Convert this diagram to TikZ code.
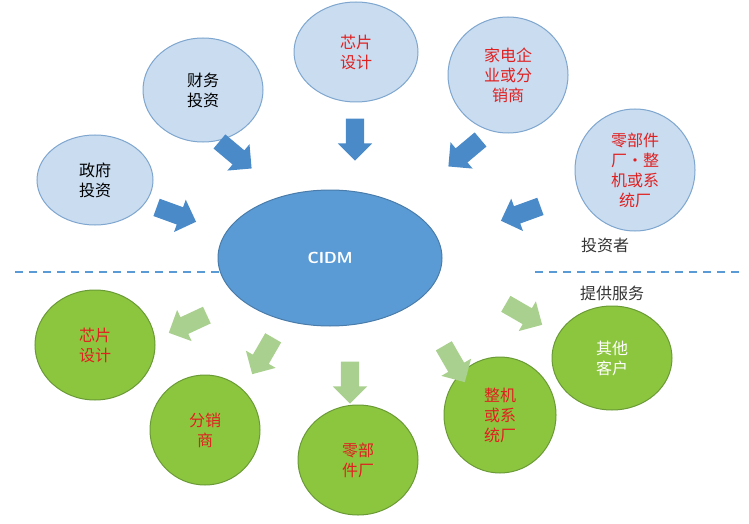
\documentclass[tikz,border=0pt]{standalone}
\usepackage{fontspec}
\newfontfamily\cjk{Noto Sans CJK SC}
\usetikzlibrary{shapes.geometric,shapes.arrows}
\definecolor{topfill}{HTML}{C9DCF0}
\definecolor{topline}{HTML}{7EA6CF}
\definecolor{midfill}{HTML}{5B9BD5}
\definecolor{botfill}{HTML}{8CC63F}
\definecolor{botline}{HTML}{6A9A35}
\definecolor{txtred}{HTML}{E02020}
\definecolor{barrow}{HTML}{4A8AC8}
\definecolor{garrow}{HTML}{A9D08E}
\tikzset{
 topell/.style={ellipse,draw=topline,fill=topfill,line width=1pt,inner sep=0pt,font=\cjk\fontsize{16}{20}\selectfont,align=center},
 botell/.style={ellipse,draw=botline,fill=botfill,line width=1pt,inner sep=0pt,font=\cjk\fontsize{16}{20}\selectfont,align=center,text=txtred},
 barr/.style={single arrow,fill=barrow,draw=none,minimum height=42pt,inner sep=9pt,single arrow head extend=8pt,single arrow head indent=0pt},
 garr/.style={single arrow,fill=garrow,draw=none,minimum height=42pt,inner sep=9pt,single arrow head extend=8pt},
 lbl/.style={font=\cjk\fontsize{16}{20}\selectfont,text=black!80},
 sep/.style={draw=midfill,line width=1.8pt,dash pattern=on 8pt off 6pt}
}
\begin{document}
\begin{tikzpicture}[x=1pt,y=-1pt]
\useasboundingbox (0,0) rectangle (749,524);
\node[topell,minimum width=116pt,minimum height=90pt] (zf) at (95,180) {政府\\投资};
\node[topell,minimum width=120pt,minimum height=104pt] (cw) at (203,90) {财务\\投资};
\node[topell,minimum width=124pt,minimum height=100pt,text=txtred] (xp) at (356,52) {芯片\\设计};
\node[topell,minimum width=120pt,minimum height=116pt,text=txtred] (jd) at (508,75) {家电企\\业或分\\销商};
\node[topell,minimum width=120pt,minimum height=122pt,text=txtred] (lb) at (635,170) {零部件\\厂·整\\机或系\\统厂};
\node[ellipse,fill=midfill,draw=midfill!80!black,line width=1pt,minimum width=224pt,minimum height=136pt,text=white,font=\sffamily\bfseries\fontsize{16}{19}\selectfont] (c) at (330,258) {CIDM};
\draw[sep] (15,272) coordinate (l1) -- (225,272) coordinate (l2);
\draw[sep] (535,272) coordinate (r1) -- (740,272) coordinate (r2);
\node[lbl] (tz) at (605,245) {投资者};
\node[lbl] (tg) at (612,293) {提供服务};
\node[barr,rotate=-20] (a1) at (172,213) {};
\node[barr,rotate=-40] (a2) at (232,152) {};
\node[barr,rotate=-90] (a3) at (355,135) {};
\node[barr,rotate=-140] (a4) at (468,150) {};
\node[barr,rotate=-160] (a5) at (525,212) {};
\node[botell,minimum width=120pt,minimum height=110pt] (b1) at (95,345) {芯片\\设计};
\node[botell,minimum width=110pt,minimum height=110pt] (b2) at (205,430) {分销\\商};
\node[botell,minimum width=120pt,minimum height=110pt] (b3) at (358,460) {零部\\件厂};
\node[botell,minimum width=112pt,minimum height=116pt] (b4) at (500,415) {整机\\或系\\统厂};
\node[botell,minimum width=120pt,minimum height=104pt,text=white] (b5) at (612,358) {其他\\客户};
\node[garr,rotate=-155] (g1) at (192,322) {};
\node[garr,rotate=-120] (g2) at (265,352) {};
\node[garr,rotate=-90] (g3) at (350,378) {};
\node[garr,rotate=-60] (g4) at (452,360) {};
\node[garr,rotate=-30] (g5) at (520,312) {};
\end{tikzpicture}
\end{document}
